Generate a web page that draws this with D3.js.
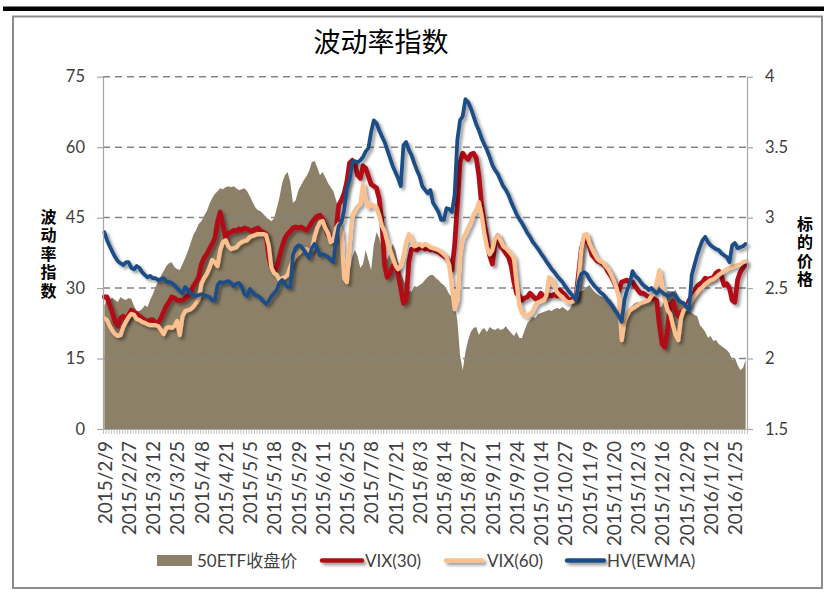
<!DOCTYPE html>
<html><head><meta charset="utf-8">
<script src="https://cdn.jsdelivr.net/npm/d3@7"></script>
<style>
body{margin:0;background:#fff}
svg{display:block}
text{font-family:Lato,"Noto Sans CJK SC",sans-serif}
</style>
</head><body>
<svg id="c" width="824" height="595"></svg>
<script>
const tickLabels = ["2015/2/9","2015/2/27","2015/3/12","2015/3/25","2015/4/8","2015/4/21","2015/5/5","2015/5/18","2015/5/29","2015/6/11","2015/6/25","2015/7/8","2015/7/21","2015/8/3","2015/8/14","2015/8/27","2015/9/11","2015/9/24","2015/10/14","2015/10/27","2015/11/9","2015/11/20","2015/12/3","2015/12/16","2015/12/29","2016/1/12","2016/1/25"];
const tickStep = 9;
const leftTicks = [0,15,30,45,60,75];
const rightTicks = [1.5,2,2.5,3,3.5,4];
const seriesNames = ["50ETF收盘价","VIX(30)","VIX(60)","HV(EWMA)"];

const etfPrice = [
2.379,2.415,2.422,2.429,2.415,2.401,2.436,2.422,2.415,2.429,
2.422,2.372,2.337,2.337,2.351,2.379,2.365,2.415,2.457,2.507,
2.550,2.585,2.621,2.656,2.677,2.684,2.649,2.635,2.628,2.670,
2.713,2.762,2.819,2.876,2.911,2.954,2.975,3.011,3.046,3.096,
3.138,3.167,3.188,3.209,3.202,3.216,3.223,3.216,3.223,3.209,
3.195,3.202,3.209,3.188,3.152,3.110,3.074,3.053,3.046,3.025,
3.004,2.989,2.975,2.996,3.067,3.145,3.245,3.301,3.323,3.252,
3.103,3.124,3.195,3.230,3.266,3.294,3.330,3.394,3.401,3.358,
3.301,3.323,3.287,3.245,3.216,3.188,3.124,3.053,2.947,2.755,
2.557,2.613,2.720,2.770,2.727,2.642,2.670,2.770,2.699,2.628,
2.805,2.897,2.855,2.784,2.734,2.699,2.755,2.812,2.770,2.684,
2.613,2.557,2.514,2.486,2.472,2.514,2.507,2.521,2.535,2.557,
2.578,2.592,2.592,2.571,2.557,2.535,2.521,2.493,2.457,2.436,
2.379,2.273,2.025,1.918,2.046,2.131,2.188,2.216,2.223,2.167,
2.202,2.216,2.188,2.223,2.209,2.202,2.216,2.202,2.209,2.230,
2.202,2.181,2.160,2.188,2.145,2.145,2.202,2.252,2.273,2.294,
2.287,2.316,2.323,2.330,2.337,2.344,2.337,2.351,2.358,2.351,
2.365,2.351,2.337,2.358,2.401,2.429,2.465,2.479,2.486,2.507,
2.521,2.493,2.472,2.457,2.443,2.436,2.443,2.429,2.415,2.387,
2.358,2.301,2.230,2.273,2.330,2.358,2.379,2.394,2.401,2.401,
2.415,2.408,2.401,2.415,2.401,2.387,2.358,2.372,2.443,2.479,
2.479,2.472,2.486,2.443,2.415,2.379,2.351,2.337,2.323,2.309,
2.301,2.238,2.216,2.188,2.145,2.160,2.124,2.131,2.103,2.089,
2.074,2.060,2.039,1.989,2.004,1.954,1.918,1.933,1.989];

const vix30 = [
28.1,28.1,26.4,24.7,22.8,21.9,23.6,24.0,23.2,24.3,
25.3,24.9,24.5,24.0,23.6,23.2,22.8,23.2,23.2,22.6,
22.6,23.6,24.9,26.2,27.0,28.1,27.9,27.4,27.4,27.4,
27.9,28.3,29.1,30.4,31.3,32.3,35.1,36.4,37.2,38.3,
39.4,40.6,44.0,46.2,43.4,40.6,41.7,41.9,42.3,42.1,
42.6,42.3,42.8,42.6,42.3,42.1,42.6,42.8,42.1,41.9,
41.5,36.8,34.3,33.8,34.3,36.8,38.9,40.6,41.5,42.1,
42.8,43.0,42.8,43.0,42.6,42.3,43.0,44.0,44.7,45.3,
45.5,44.7,42.8,41.3,40.6,40.2,42.3,47.7,48.7,50.2,
52.6,56.6,57.2,56.4,54.0,53.4,56.0,55.5,53.8,52.1,
51.7,51.3,49.1,44.0,34.9,32.3,33.0,34.7,35.1,33.0,
30.0,26.8,27.4,35.5,38.3,38.3,38.1,38.5,38.7,38.3,
38.5,38.1,38.3,37.9,37.7,37.2,36.8,36.4,35.5,33.8,
39.1,47.7,56.8,58.7,57.9,57.4,58.5,58.7,57.7,54.0,
47.7,43.6,40.6,37.0,35.1,39.6,41.1,38.9,38.3,37.4,
36.6,34.7,31.3,28.9,28.3,27.4,27.9,28.1,28.9,28.3,
27.7,27.9,28.9,28.1,28.1,28.5,28.3,28.7,28.3,29.6,
29.1,28.5,27.7,27.4,27.9,27.9,33.0,38.3,40.4,40.6,
38.9,37.0,36.4,35.7,35.5,35.1,34.5,33.4,32.6,31.5,
30.2,29.6,31.3,31.5,31.7,31.1,31.3,30.4,29.6,28.9,
28.9,28.5,28.1,27.9,27.7,27.4,22.1,18.1,17.4,21.1,
26.4,27.2,25.1,24.0,24.9,25.3,25.7,27.4,28.3,29.1,
30.4,30.9,31.3,32.1,31.9,32.1,32.3,33.2,33.6,32.6,
30.6,30.9,30.0,27.4,27.0,31.7,33.4,34.3,35.1];

const vix60 = [
23.6,23.2,21.9,20.9,20.2,19.8,20.0,21.7,22.8,23.8,
24.5,24.3,23.4,23.2,22.8,22.6,22.3,22.1,22.1,22.1,
21.9,21.1,20.2,21.5,21.7,21.5,21.9,23.0,20.0,24.0,
25.1,25.3,25.5,26.0,26.8,27.7,30.9,32.1,33.0,34.3,
36.0,35.5,34.7,38.1,39.8,40.2,38.9,38.3,38.5,38.7,
39.4,39.8,40.0,40.2,40.9,41.1,41.3,41.5,41.5,41.5,
41.3,39.1,34.3,33.2,32.8,31.7,32.1,32.3,32.8,34.5,
36.0,36.8,37.4,38.1,38.1,38.3,37.9,38.1,40.9,42.8,
44.0,44.3,42.8,41.7,39.8,40.2,42.8,43.6,41.7,32.1,
31.3,39.1,45.5,46.6,47.4,47.9,52.1,48.7,47.2,47.9,
47.4,47.2,45.5,43.2,42.1,39.8,38.1,36.4,34.9,34.0,
34.7,36.8,39.8,41.5,40.2,38.9,39.1,39.4,38.9,39.4,
39.1,38.7,38.5,38.3,38.1,37.7,37.2,36.6,34.9,30.0,
25.5,27.4,37.0,40.6,41.5,42.8,44.0,45.7,46.6,48.3,
45.5,41.7,38.7,37.2,38.1,40.6,41.1,40.2,38.9,38.5,
37.9,37.2,36.4,30.9,26.4,24.7,24.3,24.0,24.5,25.1,
26.4,27.0,27.2,27.4,28.3,32.3,31.9,30.4,29.1,28.5,
28.1,27.4,27.0,27.0,27.2,27.9,31.7,38.1,41.3,41.5,
39.6,38.3,37.2,36.2,35.7,35.5,34.7,34.0,33.0,31.7,
30.2,27.9,18.9,22.8,24.3,25.3,25.7,26.0,26.4,26.8,
27.0,27.2,27.4,28.3,29.1,31.3,33.8,30.4,27.4,25.3,
24.5,22.1,20.0,18.9,23.6,25.3,25.7,26.4,27.4,28.3,
29.1,29.8,30.2,30.9,31.3,31.7,31.9,32.3,32.8,33.2,
33.6,34.0,34.3,34.5,34.7,34.9,35.1,35.5,35.7];

const hvEwma = [
41.9,40.2,38.9,37.7,36.6,35.7,35.3,34.9,35.5,35.5,
34.3,34.0,34.7,34.3,33.4,32.8,32.3,32.6,32.1,32.1,
31.7,31.9,32.1,31.3,31.3,31.1,30.6,30.0,29.4,28.9,
30.2,29.6,28.9,28.5,28.3,28.5,28.7,28.5,28.3,28.1,
27.4,27.4,30.6,31.3,31.1,31.3,31.5,31.1,30.4,30.9,
31.1,30.2,28.7,28.3,29.8,29.1,28.5,28.3,27.9,27.2,
26.6,27.2,28.3,28.9,29.6,31.1,31.7,30.9,30.2,30.2,
37.0,38.5,39.1,38.9,38.1,37.2,36.4,38.5,39.4,38.5,
37.0,37.2,37.0,36.6,36.0,35.5,40.2,43.2,44.0,46.6,
51.3,53.0,56.8,57.0,56.8,57.2,57.9,59.1,59.8,63.2,
65.7,65.1,63.6,62.3,61.1,59.4,57.7,56.0,54.7,53.4,
51.7,60.4,61.1,59.4,58.3,56.6,55.1,53.8,51.7,50.9,
50.2,50.9,48.1,47.2,46.2,44.5,44.5,47.0,46.8,46.2,
49.8,61.5,65.7,66.6,70.2,69.6,68.3,66.6,64.9,63.6,
61.9,60.6,59.4,57.9,56.2,55.1,54.3,53.0,51.7,50.9,
49.8,48.3,47.0,45.7,44.7,43.8,42.8,41.7,40.9,39.8,
39.1,38.3,37.4,36.6,35.7,34.9,34.0,33.4,32.6,31.9,
31.3,30.4,29.6,28.9,28.3,27.4,31.3,33.0,33.4,33.0,
31.9,31.1,30.4,29.8,29.1,28.7,28.1,27.2,26.6,25.7,
24.9,24.0,22.8,27.4,29.6,30.9,33.6,32.6,32.1,31.3,
30.6,30.2,29.6,30.0,29.4,28.9,29.6,29.1,28.7,28.3,
28.5,28.9,28.3,27.4,27.0,26.8,26.0,25.3,32.8,34.9,
37.0,38.7,40.2,40.9,39.8,39.1,38.7,38.3,38.1,37.4,
37.0,36.6,35.5,39.1,39.6,38.5,38.7,38.9,39.4];

const colors = {area:"#8D8068", vix30:"#B00C18", vix60:"#FAC08F", hv:"#1F4E87"};

const svg = d3.select("#c");
const defs = svg.append("defs");
defs.append("filter").attr("id","sh").attr("filterUnits","userSpaceOnUse")
  .attr("x",0).attr("y",0).attr("width",824).attr("height",595)
  .append("feDropShadow").attr("dx",2.5).attr("dy",2.5).attr("stdDeviation",1.6)
  .attr("flood-color","#000").attr("flood-opacity",0.4);

// background frame
svg.append("rect").attr("x",0).attr("y",0).attr("width",824).attr("height",595).attr("fill","#fff");
svg.append("rect").attr("x",3).attr("y",6.5).attr("width",821).attr("height",4.5).attr("fill","#000");
svg.append("rect").attr("x",13).attr("y",16.5).attr("width",809).attr("height",571.5)
  .attr("fill","#fff").attr("stroke","#8c8c8c").attr("stroke-width",2);

const m = {l:103, r:747, t:76.7, b:429};
const n = etfPrice.length;
const x = d3.scaleLinear().domain([0,n]).range([m.l,m.r]);
const cx = i => x(i+0.5);
const yL = d3.scaleLinear().domain([0,75]).range([m.b,m.t]);
const yR = d3.scaleLinear().domain([1.5,4]).range([m.b,m.t]);

// area
svg.append("path").datum(etfPrice)
  .attr("d", d3.area().x((d,i)=>cx(i)).y0(m.b).y1(d=>yR(d)))
  .attr("fill",colors.area);

// gridlines
svg.append("g").selectAll("line").data(leftTicks.filter(v=>v>0)).join("line")
  .attr("x1",m.l).attr("x2",m.r).attr("y1",d=>yL(d)).attr("y2",d=>yL(d))
  .attr("stroke","#858585").attr("stroke-width",1.5).attr("stroke-dasharray","7,5");

// lines
const line = d3.line().x((d,i)=>cx(i)).y(d=>yL(d));
[[vix30,colors.vix30,4.8],[vix60,colors.vix60,4.2],[hvEwma,colors.hv,3.8]].forEach(([data,c,w])=>{
  svg.append("path").datum(data).attr("d",line).attr("fill","none")
    .attr("stroke",c).attr("stroke-width",w).attr("stroke-linejoin","round").attr("stroke-linecap","round")
    .attr("filter","url(#sh)");
});

// axes
function styleAxis(g){
  g.select(".domain").attr("stroke","#a6a6a6").attr("stroke-width",1.2);
  g.selectAll(".tick line").attr("stroke","#a6a6a6").attr("stroke-width",1.2);
  g.selectAll(".tick text").attr("fill","#404040").style("font-size","16.5px").style("font-family","Lato, sans-serif");
}
svg.append("g").attr("transform",`translate(${m.l},0)`)
  .call(d3.axisLeft(yL).tickValues(leftTicks).tickSize(6).tickPadding(12).tickSizeOuter(0))
  .call(styleAxis);
svg.append("g").attr("transform",`translate(${m.r},0)`)
  .call(d3.axisRight(yR).tickValues(rightTicks).tickSize(6).tickPadding(12).tickSizeOuter(0).tickFormat(d3.format("")))
  .call(styleAxis);

// x axis: category boundary ticks
svg.append("g").attr("transform",`translate(0,${m.b})`)
  .call(d3.axisBottom(x).tickValues(d3.range(0,n+1)).tickSize(5).tickFormat("").tickSizeOuter(0))
  .call(g=>{g.select(".domain").attr("stroke","#a6a6a6").attr("stroke-width",1.2);
            g.selectAll(".tick line").attr("stroke","#b3b3b3").attr("stroke-width",0.8);});
// x axis labels
const labelIdx = tickLabels.map((_,k)=>k*tickStep+0.5);
svg.append("g").attr("transform",`translate(0,${m.b})`)
  .call(d3.axisBottom(x).tickValues(labelIdx).tickSize(0).tickFormat((d,k)=>tickLabels[k]))
  .call(g=>{
    g.select(".domain").remove();
    g.selectAll(".tick text").attr("transform","rotate(-90)").attr("text-anchor","end")
      .attr("x",-12).attr("y",0).attr("dy","0.36em")
      .attr("fill","#404040").style("font-size","19px").style("font-family","Lato, sans-serif");
  });

// title
svg.append("text").attr("x",381).attr("y",52).attr("text-anchor","middle")
  .style("font-family","'Noto Sans CJK SC'").style("font-size","27px").attr("fill","#000").text("波动率指数");

// axis titles (vertical)
function vtitle(str,xc,yTop){
  svg.append("text").attr("x",xc).attr("y",yTop)
    .style("writing-mode","vertical-rl").style("text-orientation","upright")
    .style("font-family","'Noto Sans CJK SC'").style("font-size","16px").style("font-weight","bold")
    .style("letter-spacing","2.4px").attr("fill","#000").text(str);
}
vtitle("波动率指数",48.5,209);
vtitle("标的价格",805,216);

// legend
const lg = svg.append("g");
const ly = 560.5;
lg.append("rect").attr("x",157).attr("y",555).attr("width",35).attr("height",11).attr("fill",colors.area);
const legendItems = [
  {name:seriesNames[0], tx:197},
  {name:seriesNames[1], c:colors.vix30, x1:322, x2:362, tx:365},
  {name:seriesNames[2], c:colors.vix60, x1:446, x2:482, tx:487},
  {name:seriesNames[3], c:colors.hv, x1:567, x2:604, tx:607}
];
legendItems.forEach(d=>{
  if(d.c) lg.append("line").attr("x1",d.x1).attr("x2",d.x2).attr("y1",ly).attr("y2",ly)
    .attr("stroke",d.c).attr("stroke-width",4.5).attr("stroke-linecap","round").attr("filter","url(#sh)");
  lg.append("text").attr("x",d.tx).attr("y",ly+6).attr("fill","#404040")
    .style("font-size","17px").text(d.name);
});
</script>
</body></html>
